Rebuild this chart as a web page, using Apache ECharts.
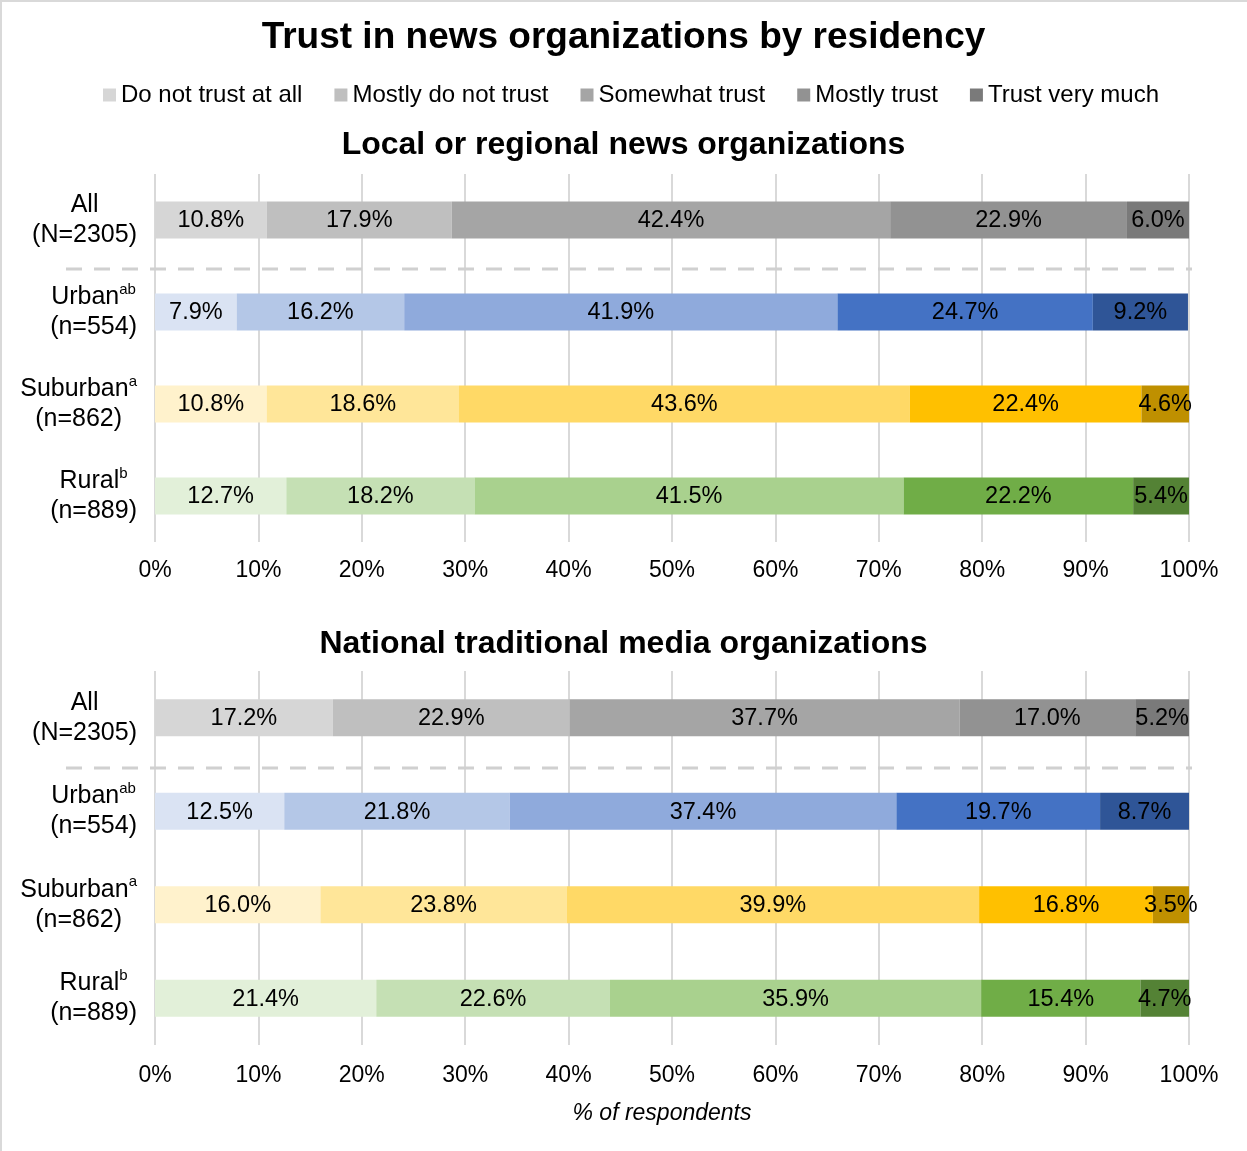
<!DOCTYPE html>
<html>
<head>
<meta charset="utf-8">
<title>Trust in news organizations by residency</title>
<script src="https://cdn.jsdelivr.net/npm/echarts@6/dist/echarts.min.js"></script>
<style>
  html, body { margin: 0; padding: 0; background: #ffffff; }
  #chart { position: absolute; left: 0; top: 0; width: 1247px; height: 1151px; }
  #frame { position: absolute; left: 0; top: 0; width: 1247px; height: 1151px;
           border-left: 2px solid #d9d9d9; border-top: 2px solid #d9d9d9;
           box-sizing: border-box; pointer-events: none; }
</style>
</head>
<body>
<div id="chart"></div>
<div id="frame"></div>
<script>
// Response scale, least to most trust
const trustLevels = ['Do not trust at all', 'Mostly do not trust', 'Somewhat trust', 'Mostly trust', 'Trust very much'];

// Respondent groups (top to bottom)
const groups = ['All', 'Urban', 'Suburban', 'Rural'];
const groupLabels = [
  '{n|All}\n{n|(N=2305)}',
  '{n|Urban}{s|ab}\n{n|(n=554)}',
  '{n|Suburban}{s|a}\n{n|(n=862)}',
  '{n|Rural}{s|b}\n{n|(n=889)}'
];

// Local or regional news organizations, % per trust level
const localAll      = [10.8, 17.9, 42.4, 22.9, 6.0];
const localUrban    = [7.9, 16.2, 41.9, 24.7, 9.2];
const localSuburban = [10.8, 18.6, 43.6, 22.4, 4.6];
const localRural    = [12.7, 18.2, 41.5, 22.2, 5.4];

// National traditional media organizations, % per trust level
const nationalAll      = [17.2, 22.9, 37.7, 17.0, 5.2];
const nationalUrban    = [12.5, 21.8, 37.4, 19.7, 8.7];
const nationalSuburban = [16.0, 23.8, 39.9, 16.8, 3.5];
const nationalRural    = [21.4, 22.6, 35.9, 15.4, 4.7];

// x-axis ticks
const tickValues = [0, 10, 20, 30, 40, 50, 60, 70, 80, 90, 100];

// Colour ramps per group (light -> dark)
const palettes = {
  All:      ['#d6d6d6', '#bfbfbf', '#a5a5a5', '#929292', '#7a7a7a'],
  Urban:    ['#dae3f3', '#b4c7e7', '#8faadc', '#4472c4', '#2f5597'],
  Suburban: ['#fff2cc', '#ffe699', '#ffd966', '#ffc000', '#bf9000'],
  Rural:    ['#e2f0d9', '#c5e0b4', '#a9d18e', '#70ad47', '#548235']
};

const FONT = "'Liberation Sans', Arial, sans-serif";

const panels = [
  { title: 'Local or regional news organizations', rows: [localAll, localUrban, localSuburban, localRural],
    top: 174, height: 368, labelMargin: 17, titleTop: 129 },
  { title: 'National traditional media organizations', rows: [nationalAll, nationalUrban, nationalSuburban, nationalRural],
    top: 671, height: 374, labelMargin: 19, titleTop: 628 }
];

const grids = [], xAxes = [], yAxes = [], series = [];
panels.forEach((p, pi) => {
  grids.push({ left: 155, right: 58, top: p.top, height: p.height, containLabel: false });
  xAxes.push({
    type: 'value', gridIndex: pi, min: 0, max: 100, interval: 10,
    axisLine: { show: false }, axisTick: { show: false },
    splitLine: { show: true, lineStyle: { color: '#d9d9d9', width: 2 } },
    axisLabel: {
      margin: p.labelMargin, color: '#000', fontFamily: FONT, fontSize: 23,
      formatter: v => tickValues.indexOf(v) >= 0 ? v + '%' : ''
    },
    name: pi === 1 ? '% of respondents' : '',
    nameLocation: 'middle', nameGap: 57,
    nameTextStyle: { color: '#000', fontFamily: FONT, fontSize: 23, fontStyle: 'italic', padding: [0, 20, 0, 0] }
  });
  yAxes.push({
    type: 'category', gridIndex: pi, data: groups, inverse: true,
    axisLine: { show: false }, axisTick: { show: false }, splitLine: { show: false },
    axisLabel: {
      margin: 18, align: 'right', color: '#000', fontFamily: FONT,
      formatter: (v, i) => groupLabels[i],
      rich: {
        n: { fontSize: 25, lineHeight: 30, align: 'center', color: '#000', fontFamily: FONT },
        s: { fontSize: 15, lineHeight: 21, align: 'center', verticalAlign: 'top', color: '#000', fontFamily: FONT }
      }
    }
  });
  trustLevels.forEach((level, li) => {
    series.push({
      name: level, type: 'bar', stack: 'panel' + pi,
      xAxisIndex: pi, yAxisIndex: pi, barWidth: 37,
      itemStyle: { color: palettes.All[li] },
      label: {
        show: true, position: 'inside', offset: [0, 1], color: '#000', fontFamily: FONT, fontSize: 23.5,
        formatter: d => d.value.toFixed(1) + '%'
      },
      emphasis: { disabled: true },
      data: groups.map((g, gi) => ({ value: p.rows[gi][li], itemStyle: { color: palettes[g][li] } }))
    });
  });
});

const chart = echarts.init(document.getElementById('chart'), null, { renderer: 'canvas' });
chart.setOption({
  animation: false,
  backgroundColor: '#ffffff',
  title: [
    { text: 'Trust in news organizations by residency', left: 'center', top: 19, padding: 0,
      textStyle: { fontFamily: FONT, fontSize: 37, fontWeight: 'bold', color: '#000' } },
    { text: panels[0].title, left: 'center', top: panels[0].titleTop, padding: 0,
      textStyle: { fontFamily: FONT, fontSize: 32, fontWeight: 'bold', color: '#000' } },
    { text: panels[1].title, left: 'center', top: panels[1].titleTop, padding: 0,
      textStyle: { fontFamily: FONT, fontSize: 32, fontWeight: 'bold', color: '#000' } }
  ],
  legend: {
    data: trustLevels, left: 103, top: 83, padding: 0,
    icon: 'rect', itemWidth: 13, itemHeight: 13, itemGap: 32,
    selectedMode: false,
    textStyle: { fontFamily: FONT, fontSize: 24, color: '#000' }
  },
  grid: grids,
  xAxis: xAxes,
  yAxis: yAxes,
  series: series
});

// Dashed separator between the "All" row and the residency rows of each panel
const separators = panels.map((p, pi) => {
  const yAll = chart.convertToPixel({ yAxisIndex: pi }, groups[0]);
  const yUrban = chart.convertToPixel({ yAxisIndex: pi }, groups[1]);
  const y = Math.round((yAll + yUrban) / 2) + 3;
  const x0 = chart.convertToPixel({ xAxisIndex: pi }, 0);
  const x1 = chart.convertToPixel({ xAxisIndex: pi }, 100);
  return {
    type: 'line', z: 10,
    shape: { x1: x0 - 89, y1: y, x2: x1 + 3, y2: y },
    style: { stroke: '#d0d0d0', lineWidth: 3, lineDash: [16, 12] }
  };
});
chart.setOption({ graphic: separators });
</script>
</body>
</html>
